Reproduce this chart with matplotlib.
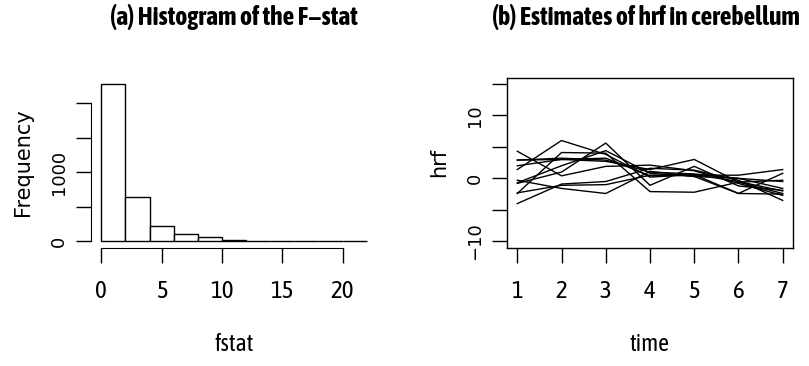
import numpy as np
import matplotlib
matplotlib.use("Agg")
import matplotlib.pyplot as plt
from matplotlib import font_manager as fm

# ---- data ----
bin_edges = [0, 2, 4, 6, 8, 10, 12, 14, 16, 18, 20, 22]
bin_counts = [2285, 638, 227, 111, 58, 25, 8, 12, 5, 3, 2]

time_pts = [1, 2, 3, 4, 5, 6, 7]
hrf_1 = [1.4, 6.0, 3.8, 0.2, 0.6, -0.5, -2.0]
hrf_2 = [4.3, 0.4, 1.9, 2.1, 1.2, -0.8, -2.7]
hrf_3 = [-4.0, -0.9, -0.5, 1.6, 1.3, -0.3, -3.5]
hrf_4 = [-0.8, 1.0, 5.6, -1.1, 1.9, -1.2, -1.9]
hrf_5 = [2.9, 3.0, 2.7, 1.4, 3.0, -0.6, -2.4]
hrf_6 = [-2.4, 4.1, 4.0, -2.1, -2.2, -0.6, -0.3]
hrf_7 = [-0.3, -1.6, -2.4, 1.1, 0.3, 0.0, -1.6]
hrf_8 = [2.0, 3.0, 3.2, 0.4, 0.5, 0.5, 1.4]
hrf_9 = [-0.7, 2.0, 4.4, 0.8, 0.3, -2.4, 0.8]
hrf_10 = [-2.3, -1.1, -1.0, 0.5, 0.6, -2.4, -2.5]
hrf_11 = [2.9, 3.2, 2.9, 1.0, 0.7, 0.0, -0.5]
hrf_lines = [hrf_1, hrf_2, hrf_3, hrf_4, hrf_5, hrf_6, hrf_7, hrf_8, hrf_9, hrf_10, hrf_11]

hist_yticks = [0, 500, 1000, 1500, 2000]
hist_ylabels = ["0", "", "1000", "", ""]
hist_xticks = [0, 5, 10, 15, 20]
hrf_yticks = [-10, -5, 0, 5, 10, 15]
hrf_ylabels = ["\u221210", "", "0", "", "10", ""]

# ---- fonts: the reference text is horizontally squeezed ----
# pick an installed narrow/condensed family, preferring one with a bold face
fonts = fm.fontManager.ttflist
narrow = sorted({f.name for f in fonts
                 if ("Narrow" in f.name or "Condensed" in f.name)
                 and not any(w in f.name for w in ("Light", "Thin", "Extra", "Semi", "Medium", "Black"))})
with_bold = [n for n in narrow
             if any(f.name == n and (f.weight in ("bold", 700) or f.weight == 700) for f in fonts)]
narrow_name = (with_bold or narrow or ["Liberation Sans"])[0]
NARROW = [narrow_name, "DejaVu Sans"]
WIDE = ["DejaVu Sans"]

# ---- layout (pixels) ----
W, H = 809, 366
tick_len = 10.6


def px_axes(fig, x0, y0, x1, y1):
    return fig.add_axes([x0 / W, 1 - y1 / H, (x1 - x0) / W, (y1 - y0) / H])


fig = plt.figure(figsize=(W / 100, H / 100), dpi=100)

# ==============================
# (a) histogram
# ==============================
ax1 = px_axes(fig, 90.7, 77.5, 377.3, 247.7)
ax1.hist(bin_edges[:-1], bins=bin_edges, weights=bin_counts,
         facecolor="white", edgecolor="black", linewidth=1.0)
ax1.set_xlim(-0.88, 22.88)
ax1.set_ylim(-max(bin_counts) * 0.04, max(bin_counts) * 1.04)
for s in ["top", "right"]:
    ax1.spines[s].set_visible(False)
ax1.spines["left"].set_bounds(0, 2000)
ax1.spines["bottom"].set_bounds(0, 20)
ax1.set_xticks(hist_xticks)
ax1.set_xticklabels([str(v) for v in hist_xticks], family=NARROW, fontsize=18)
ax1.set_yticks(hist_yticks)
ax1.set_yticklabels(hist_ylabels, family=WIDE, fontsize=13, rotation=90, va="center")
ax1.tick_params(axis="both", length=tick_len, width=1.0)
ax1.tick_params(axis="x", pad=13)
ax1.tick_params(axis="y", pad=6)
ax1.set_xlabel("fstat", family=NARROW, fontsize=17, labelpad=21)
ax1.set_ylabel("Frequency", family=WIDE, fontsize=15, labelpad=12)
ax1.set_title("(a) Histogram of the F\u2212stat", family=NARROW, fontsize=18.5,
              fontweight="bold", pad=38)

# ==============================
# (b) hrf estimates
# ==============================
ax2 = px_axes(fig, 506.7, 77.5, 793.3, 247.7)
for y in hrf_lines:
    ax2.plot(time_pts, y, color="black", linewidth=1.0)
ax2.set_xlim(0.76, 7.24)
ax2.set_ylim(-11, 16)
ax2.set_xticks(time_pts)
ax2.set_xticklabels([str(v) for v in time_pts], family=NARROW, fontsize=18)
ax2.set_yticks(hrf_yticks)
ax2.set_yticklabels(hrf_ylabels, family=WIDE, fontsize=13, rotation=90, va="center")
ax2.tick_params(axis="both", length=tick_len, width=1.0)
ax2.tick_params(axis="x", pad=13)
ax2.tick_params(axis="y", pad=6)
for s in ax2.spines.values():
    s.set_linewidth(1.0)
ax2.set_xlabel("time", family=NARROW, fontsize=17, labelpad=21)
ax2.set_ylabel("hrf", family=WIDE, fontsize=15, labelpad=12)
ax2.set_title("(b) Estimates of hrf in cerebellum", family=NARROW, fontsize=18.5,
              fontweight="bold", pad=38, x=0.485)

plt.savefig("out.png", dpi=100)
